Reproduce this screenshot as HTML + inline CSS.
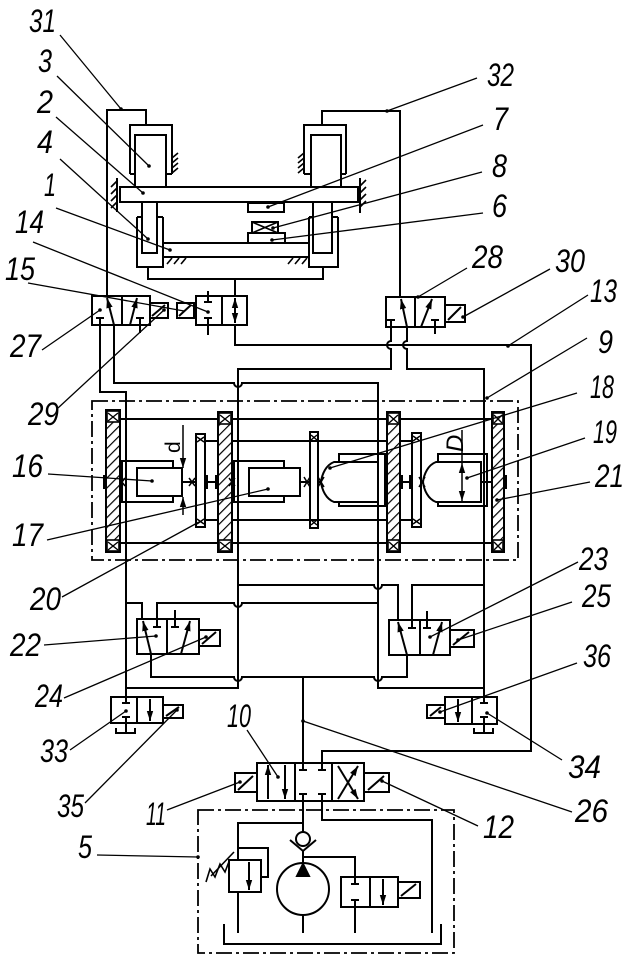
<!DOCTYPE html>
<html><head><meta charset="utf-8"><style>
html,body{margin:0;padding:0;background:#fff;width:634px;height:958px;overflow:hidden}
svg{display:block}
.t{font-family:"Liberation Sans",sans-serif;font-style:italic;font-size:32px;fill:#000;stroke:none}
</style></head><body>
<svg width="634" height="958" viewBox="0 0 634 958" xmlns="http://www.w3.org/2000/svg">
<defs>
<marker id="ar" markerUnits="userSpaceOnUse" markerWidth="10" markerHeight="8" viewBox="0 0 10 8" refX="10" refY="4" orient="auto"><path d="M0,0.8 L10,4 L0,7.2z" fill="#000" stroke="none"/></marker>
<pattern id="h" width="7" height="7" patternUnits="userSpaceOnUse" patternTransform="rotate(45)"><rect width="7" height="7" fill="#fff"/><line x1="0" y1="0" x2="0" y2="7" stroke="#000" stroke-width="2.4"/></pattern>
</defs>
<rect width="634" height="958" fill="#fff"/>

<g fill="none" stroke="#000" stroke-width="2">
<!-- ===== TOP MECHANISM ===== -->
<path d="M107,297 V110 H146 V125"/>
<path d="M130,174 V125 H172 V174 M130,174 H135 M167,174 H172"/>
<rect x="135" y="135" width="31" height="52"/>
<path d="M400,297 V111 H322 V125"/>
<path d="M304,174 V125 H346 V174 M304,174 H311 M341,174 H346"/>
<rect x="311" y="135" width="30" height="52"/>
<path d="M172,158 l6,-5 M172,163 l6,-5 M172,168 l6,-5 M172,173 l6,-5" stroke-width="1.6"/>
<path d="M298,158 l6,-5 M298,163 l6,-5 M298,168 l6,-5 M298,173 l6,-5" stroke-width="1.6"/>
<rect x="120" y="187" width="238" height="15"/>
<path d="M117,178 V212"/>
<path d="M117,181 l-6,6 M117,188 l-6,6 M117,195 l-6,6 M117,202 l-6,6" stroke-width="1.6"/>
<path d="M360,178 V213"/>
<path d="M360,186 l6,-6 M360,193 l6,-6 M360,200 l6,-6 M360,207 l6,-6" stroke-width="1.6"/>
<rect x="142" y="202" width="15" height="51"/>
<path d="M137,217 V267 H163 V217 M137,217 H142 M157,217 H163"/>
<rect x="313" y="202" width="19" height="51"/>
<path d="M309,217 V267 H338 V217 M309,217 H313 M332,217 H338"/>
<rect x="163" y="243" width="146" height="14"/>
<path d="M167,264 l5,-6 M174,264 l5,-6 M181,264 l5,-6 M288,264 l5,-6 M295,264 l5,-6 M302,264 l5,-6" stroke-width="1.6"/>
<rect x="248" y="203" width="36" height="9"/>
<rect x="252" y="222" width="26" height="11"/><path d="M252,222 L278,233 M278,222 L252,233" stroke-width="1.6"/>
<rect x="248" y="233" width="37" height="10"/>
<path d="M148,267 V279 H323 V267"/>
<path d="M235,279 V296"/>

<!-- ===== VALVE 15 / 27 ===== -->
<rect x="92" y="296" width="58" height="29"/>
<line x1="122" y1="296" x2="122" y2="325"/>
<path d="M96,318 H104 M100,318 V325"/>
<line x1="114" y1="325" x2="107" y2="298" marker-end="url(#ar)"/>
<line x1="130" y1="325" x2="137" y2="298" marker-end="url(#ar)"/>
<path d="M136,318 H144 M140,318 V333"/>
<rect x="150" y="303" width="18" height="15"/><line x1="152" y1="316" x2="165" y2="305"/>

<!-- ===== VALVE 14 ===== -->
<rect x="177" y="303" width="17" height="15"/><line x1="179" y1="316" x2="191" y2="305"/>
<rect x="196" y="296" width="51" height="29"/><line x1="222" y1="296" x2="222" y2="325"/>
<path d="M208,291 V302 M204,302 H212 M204,318 H212 M208,318 V335"/>
<line x1="235" y1="310" x2="235" y2="298" marker-end="url(#ar)"/>
<line x1="235" y1="310" x2="235" y2="323" marker-end="url(#ar)"/>
<path d="M235,325 V345 H531 V751 H322 V763"/>

<!-- ===== VALVE 28 ===== -->
<rect x="386" y="297" width="59" height="30"/><line x1="415" y1="297" x2="415" y2="327"/>
<path d="M387,320 H395 M391,320 V327"/>
<line x1="407" y1="327" x2="401" y2="299" marker-end="url(#ar)"/>
<line x1="421" y1="327" x2="432" y2="299" marker-end="url(#ar)"/>
<path d="M431,320 H439 M435,320 V334"/>
<rect x="445" y="305" width="20" height="17"/><line x1="448" y1="320" x2="461" y2="307"/>

<!-- ===== PIPES ===== -->
<path d="M391,327 V341 A4,4 0 0 0 391,349 V369 H238 V688 H126"/>
<path d="M407,327 V341 A4,4 0 0 0 407,349 V369 H484 V697"/>
<path d="M100,325 V392 H126 V697"/>
<path d="M114,325 V383 H234 A4,4 0 0 0 242,383 H378 V688 H484"/>
<path d="M142,619 V603 H126"/>
<path d="M157,619 V603 H234 A4,4 0 0 0 242,603 H378"/>
<path d="M151,654 V677 H234 A4,4 0 0 0 242,677 H374 A4,4 0 0 0 382,677 H407 V655"/>
<path d="M238,585 H374 A4,4 0 0 0 382,585 H398 V620"/>
<path d="M412,620 V585 H484"/>
<path d="M303,677 V763"/>

<!-- ===== GEARBOX ===== -->
<rect x="92" y="401" width="426" height="159" stroke-width="1.8" stroke-dasharray="16,4,3,4"/>
<path d="M120,419 H492 M120,543 H492 M205,441 H412 M205,520 H412"/>
<path d="M120,482 H122 M182,482 H196 M205,482 H218 M300,482 H310 M318,482 H322 M385,482 H387 M400,482 H412 M421,482 H424 M481,482 H492"/>
<rect x="106" y="410" width="14" height="142" fill="url(#h)"/>
<rect x="218" y="412" width="14" height="140" fill="url(#h)"/>
<rect x="387" y="412" width="13" height="140" fill="url(#h)"/>
<rect x="492" y="412" width="12" height="140" fill="url(#h)"/>
<g fill="#fff" stroke-width="1.6">
<rect x="107" y="411" width="12" height="11"/><rect x="107" y="540" width="12" height="11"/>
<rect x="219" y="413" width="12" height="11"/><rect x="219" y="540" width="12" height="11"/>
<rect x="388" y="413" width="11" height="11"/><rect x="388" y="540" width="11" height="11"/>
<rect x="493" y="413" width="10" height="11"/><rect x="493" y="540" width="10" height="11"/>
</g>
<path d="M108,413 l10,8 M118,413 l-10,8 M108,542 l10,8 M118,542 l-10,8 M220,415 l10,8 M230,415 l-10,8 M220,542 l10,8 M230,542 l-10,8 M389,415 l9,8 M398,415 l-9,8 M389,542 l9,8 M398,542 l-9,8 M494,415 l8,8 M502,415 l-8,8 M494,542 l8,8 M502,542 l-8,8" stroke-width="1.4"/>
<rect x="196" y="434" width="9" height="93"/>
<rect x="310" y="432" width="8" height="96"/>
<rect x="412" y="433" width="9" height="94"/>
<path d="M197,437 l7,5 M204,437 l-7,5 M197,524 l7,-5 M204,524 l-7,-5 M311,435 l6,5 M317,435 l-6,5 M311,525 l6,-5 M317,525 l-6,-5 M413,436 l7,5 M420,436 l-7,5 M413,524 l7,-5 M420,524 l-7,-5" stroke-width="1.4"/>
<g fill="#000" stroke="none">
<rect x="103" y="475" width="3" height="14"/>
<rect x="205" y="475" width="3" height="14"/>
<rect x="215" y="475" width="3" height="14"/>
<rect x="400" y="475" width="3" height="14"/>
<rect x="409" y="475" width="3" height="14"/>
<rect x="504" y="475" width="3" height="14"/>
</g>
<path d="M119,478 l6,8 M125,478 l-6,8 M189,478 l6,8 M195,478 l-6,8 M229,478 l6,8 M235,478 l-6,8 M304,477 l6,10 M310,477 l-6,10 M318,477 l6,10 M324,477 l-6,10 M419,477 l6,10 M425,477 l-6,10" stroke-width="1.5"/>
<path d="M173,468 V461 H122 V502 H173 V496"/>
<rect x="137" y="468" width="45" height="28"/>
<path d="M284,468 V461 H234 V502 H284 V496"/>
<rect x="249" y="468" width="51" height="28"/>
<path d="M339,462 V454 H385 V506 H339 V502"/>
<path d="M334,462 H378 V502 H334 C326,499 322,490 321,482 C322,474 326,465 334,462 Z"/>
<path d="M438,462 V454 H487 V506 H438 V502"/>
<path d="M436,462 H481 V502 H436 C428,499 424,490 423,482 C424,474 428,465 436,462 Z"/>
<line x1="183" y1="425" x2="183" y2="468" stroke-width="1.5" marker-end="url(#ar)"/>
<line x1="183" y1="515" x2="183" y2="497" stroke-width="1.5" marker-end="url(#ar)"/>
<path d="M462,430 V462" stroke-width="1.5"/>
<line x1="462" y1="482" x2="462" y2="463" stroke-width="1.5" marker-end="url(#ar)"/>
<line x1="462" y1="482" x2="462" y2="501" stroke-width="1.5" marker-end="url(#ar)"/>

<!-- ===== VALVE 22 ===== -->
<rect x="137" y="619" width="62" height="35"/><line x1="167" y1="619" x2="167" y2="654"/>
<line x1="151" y1="654" x2="143" y2="621" marker-end="url(#ar)"/>
<path d="M157,619 V627 M153,627 H161"/>
<path d="M175,610 V627 M171,627 H179"/>
<line x1="181" y1="654" x2="190" y2="621" marker-end="url(#ar)"/>
<rect x="199" y="630" width="21" height="16"/><line x1="202" y1="644" x2="216" y2="632"/>

<!-- ===== VALVE 23 ===== -->
<rect x="389" y="620" width="61" height="35"/><line x1="420" y1="620" x2="420" y2="655"/>
<line x1="407" y1="655" x2="398" y2="622" marker-end="url(#ar)"/>
<path d="M412,620 V628 M408,628 H416"/>
<path d="M427,611 V628 M423,628 H431"/>
<line x1="433" y1="655" x2="442" y2="622" marker-end="url(#ar)"/>
<rect x="450" y="630" width="24" height="17"/><line x1="453" y1="645" x2="469" y2="632"/>

<!-- ===== VALVE 33 ===== -->
<rect x="111" y="697" width="52" height="26"/><line x1="137" y1="697" x2="137" y2="723"/>
<path d="M126,697 V703 M122,703 H130 M122,717 H130 M126,717 V733 M116,728 V733 H135 V728"/>
<line x1="150" y1="699" x2="150" y2="721" marker-end="url(#ar)"/>
<rect x="163" y="705" width="20" height="13"/><line x1="166" y1="716" x2="179" y2="707"/>

<!-- ===== VALVE 34 ===== -->
<rect x="445" y="697" width="52" height="27"/><line x1="472" y1="697" x2="472" y2="724"/>
<path d="M484,697 V703 M480,703 H488 M480,717 H488 M484,717 V733 M474,728 V733 H493 V728"/>
<line x1="458" y1="699" x2="458" y2="722" marker-end="url(#ar)"/>
<rect x="427" y="705" width="18" height="13"/><line x1="430" y1="716" x2="441" y2="707"/>

<!-- ===== VALVE 10 ===== -->
<rect x="235" y="773" width="22" height="19"/><line x1="238" y1="790" x2="253" y2="776"/>
<rect x="257" y="763" width="107" height="38"/>
<line x1="295" y1="763" x2="295" y2="801"/><line x1="332" y1="763" x2="332" y2="801"/>
<line x1="268" y1="799" x2="268" y2="765" marker-end="url(#ar)"/>
<line x1="285" y1="765" x2="285" y2="799" marker-end="url(#ar)"/>
<path d="M303,763 V770 M299,770 H307 M322,763 V770 M318,770 H326 M299,794 H307 M303,794 V801 M318,794 H326 M322,794 V801"/>
<line x1="338" y1="799" x2="358" y2="766" marker-end="url(#ar)"/>
<line x1="338" y1="766" x2="358" y2="799" marker-end="url(#ar)"/>
<rect x="364" y="773" width="25" height="19"/><line x1="368" y1="790" x2="384" y2="776"/>

<!-- ===== POWER UNIT 5 ===== -->
<rect x="198" y="810" width="256" height="143" stroke-width="1.8" stroke-dasharray="16,4,3,4"/>
<path d="M303,801 V832"/>
<circle cx="303" cy="839" r="7"/>
<path d="M290,840 L303,851 L316,840"/>
<path d="M303,851 V863"/>
<circle cx="303" cy="889" r="26"/>
<path d="M303,864 L297,876 H309 Z" fill="#000"/>
<path d="M303,857 H355 V877"/>
<path d="M322,801 V820 H432 V933"/>
<path d="M303,823 H238 V860"/>
<path d="M238,848 H268 V877 H261"/>
<rect x="229" y="860" width="32" height="32"/>
<line x1="249" y1="862" x2="249" y2="890" marker-end="url(#ar)"/>
<polyline points="206,882 210,869 215,877 220,864 225,872 230,859" stroke-width="1.6"/>
<path d="M211,876 L234,852" stroke-width="1.6"/>
<path d="M238,892 V933 M303,915 V933 M355,907 V933"/>
<path d="M224,924 V944 H441 V924"/>
<rect x="341" y="877" width="57" height="30"/><line x1="370" y1="877" x2="370" y2="907"/>
<path d="M355,877 V884 M351,884 H359 M351,900 H359 M355,900 V907"/>
<line x1="383" y1="879" x2="383" y2="905" marker-end="url(#ar)"/>
<rect x="398" y="882" width="22" height="16"/><line x1="401" y1="896" x2="416" y2="884"/>
</g>

<!-- ===== LEADERS ===== -->
<g stroke="#000" stroke-width="1.3" fill="none">
<path d="M60,35 L121,109"/>
<path d="M57,76 L149,166"/>
<path d="M56,117 L143,193"/>
<path d="M60,159 L148,239"/>
<path d="M56,208 L170,250"/>
<path d="M33,242 L208,312"/>
<path d="M28,283 L184,311"/>
<path d="M42,350 L100,310"/>
<path d="M58,408 L164,310"/>
<path d="M48,474 L152,481"/>
<path d="M47,540 L268,489"/>
<path d="M62,597 L199,522"/>
<path d="M44,645 L156,636"/>
<path d="M64,698 L206,637"/>
<path d="M70,750 L126,711"/>
<path d="M85,803 L177,710"/>
<path d="M247,730 L278,777"/>
<path d="M167,810 L240,782"/>
<path d="M97,855 L198,857"/>
<path d="M478,826 L382,781"/>
<path d="M572,812 L303,721"/>
<path d="M562,760 L487,713"/>
<path d="M577,663 L440,712"/>
<path d="M572,602 L458,640"/>
<path d="M578,562 L430,637"/>
<path d="M590,482 L497,500"/>
<path d="M585,438 L467,478"/>
<path d="M577,393 L330,468"/>
<path d="M587,338 L487,398"/>
<path d="M588,295 L508,346"/>
<path d="M550,269 L463,317"/>
<path d="M467,268 L418,297"/>
<path d="M483,213 L272,240"/>
<path d="M482,172 L273,228"/>
<path d="M483,125 L268,207"/>
<path d="M477,78 L387,111"/>
</g>
<g fill="#000">
<circle cx="121" cy="109" r="1.8"/><circle cx="149" cy="166" r="1.8"/><circle cx="143" cy="193" r="1.8"/>
<circle cx="148" cy="239" r="1.8"/><circle cx="170" cy="250" r="1.8"/><circle cx="208" cy="312" r="1.8"/>
<circle cx="100" cy="310" r="1.8"/><circle cx="164" cy="310" r="1.8"/><circle cx="152" cy="481" r="1.8"/>
<circle cx="268" cy="489" r="1.8"/><circle cx="156" cy="636" r="1.8"/><circle cx="206" cy="637" r="1.8"/>
<circle cx="126" cy="711" r="1.8"/><circle cx="177" cy="710" r="1.8"/><circle cx="278" cy="777" r="1.8"/>
<circle cx="240" cy="782" r="1.8"/><circle cx="198" cy="857" r="1.8"/><circle cx="382" cy="781" r="1.8"/>
<circle cx="303" cy="721" r="1.8"/><circle cx="487" cy="713" r="1.8"/><circle cx="440" cy="712" r="1.8"/>
<circle cx="458" cy="640" r="1.8"/><circle cx="430" cy="637" r="1.8"/><circle cx="497" cy="500" r="1.8"/>
<circle cx="467" cy="478" r="1.8"/><circle cx="330" cy="468" r="1.8"/><circle cx="487" cy="398" r="1.8"/>
<circle cx="508" cy="346" r="1.8"/><circle cx="463" cy="317" r="1.8"/><circle cx="418" cy="297" r="1.8"/>
<circle cx="272" cy="240" r="1.8"/><circle cx="273" cy="228" r="1.8"/><circle cx="268" cy="207" r="1.8"/>
<circle cx="387" cy="111" r="1.8"/>
</g>

<!-- ===== LABELS ===== -->
<g>
<text class="t" x="29" y="32" textLength="27" lengthAdjust="spacingAndGlyphs">31</text>
<text class="t" x="38" y="72" textLength="14" lengthAdjust="spacingAndGlyphs">3</text>
<text class="t" x="37" y="113" textLength="16" lengthAdjust="spacingAndGlyphs">2</text>
<text class="t" x="37" y="153" textLength="16" lengthAdjust="spacingAndGlyphs">4</text>
<text class="t" x="44" y="196" textLength="12" lengthAdjust="spacingAndGlyphs">1</text>
<text class="t" x="15" y="233" textLength="29" lengthAdjust="spacingAndGlyphs">14</text>
<text class="t" x="5" y="280" textLength="30" lengthAdjust="spacingAndGlyphs">15</text>
<text class="t" x="10" y="357" textLength="31" lengthAdjust="spacingAndGlyphs">27</text>
<text class="t" x="28" y="425" textLength="31" lengthAdjust="spacingAndGlyphs">29</text>
<text class="t" x="12" y="477" textLength="31" lengthAdjust="spacingAndGlyphs">16</text>
<text class="t" x="12" y="546" textLength="31" lengthAdjust="spacingAndGlyphs">17</text>
<text class="t" x="30" y="610" textLength="31" lengthAdjust="spacingAndGlyphs">20</text>
<text class="t" x="10" y="656" textLength="31" lengthAdjust="spacingAndGlyphs">22</text>
<text class="t" x="35" y="707" textLength="28" lengthAdjust="spacingAndGlyphs">24</text>
<text class="t" x="40" y="762" textLength="28" lengthAdjust="spacingAndGlyphs">33</text>
<text class="t" x="57" y="817" textLength="27" lengthAdjust="spacingAndGlyphs">35</text>
<text class="t" x="146" y="825" textLength="20" lengthAdjust="spacingAndGlyphs">11</text>
<text class="t" x="78" y="858" textLength="14" lengthAdjust="spacingAndGlyphs">5</text>
<text class="t" x="227" y="727" textLength="24" lengthAdjust="spacingAndGlyphs">10</text>
<text class="t" x="483" y="838" textLength="31" lengthAdjust="spacingAndGlyphs">12</text>
<text class="t" x="575" y="822" textLength="33" lengthAdjust="spacingAndGlyphs">26</text>
<text class="t" x="568" y="778" textLength="33" lengthAdjust="spacingAndGlyphs">34</text>
<text class="t" x="583" y="667" textLength="28" lengthAdjust="spacingAndGlyphs">36</text>
<text class="t" x="582" y="607" textLength="29" lengthAdjust="spacingAndGlyphs">25</text>
<text class="t" x="579" y="570" textLength="29" lengthAdjust="spacingAndGlyphs">23</text>
<text class="t" x="595" y="487" textLength="29" lengthAdjust="spacingAndGlyphs">21</text>
<text class="t" x="593" y="443" textLength="24" lengthAdjust="spacingAndGlyphs">19</text>
<text class="t" x="590" y="398" textLength="24" lengthAdjust="spacingAndGlyphs">18</text>
<text class="t" x="598" y="353" textLength="15" lengthAdjust="spacingAndGlyphs">9</text>
<text class="t" x="590" y="302" textLength="27" lengthAdjust="spacingAndGlyphs">13</text>
<text class="t" x="555" y="272" textLength="30" lengthAdjust="spacingAndGlyphs">30</text>
<text class="t" x="472" y="268" textLength="31" lengthAdjust="spacingAndGlyphs">28</text>
<text class="t" x="492" y="217" textLength="15" lengthAdjust="spacingAndGlyphs">6</text>
<text class="t" x="492" y="177" textLength="15" lengthAdjust="spacingAndGlyphs">8</text>
<text class="t" x="493" y="130" textLength="15" lengthAdjust="spacingAndGlyphs">7</text>
<text class="t" x="487" y="86" textLength="27" lengthAdjust="spacingAndGlyphs">32</text>
</g>
<text transform="translate(180,453) rotate(-90)" font-family="Liberation Sans, sans-serif" font-size="21" fill="#000">d</text>
<text transform="translate(463,452) rotate(-90)" font-family="Liberation Sans, sans-serif" font-style="italic" font-size="24" fill="#000">D</text>
</svg>
</body></html>
